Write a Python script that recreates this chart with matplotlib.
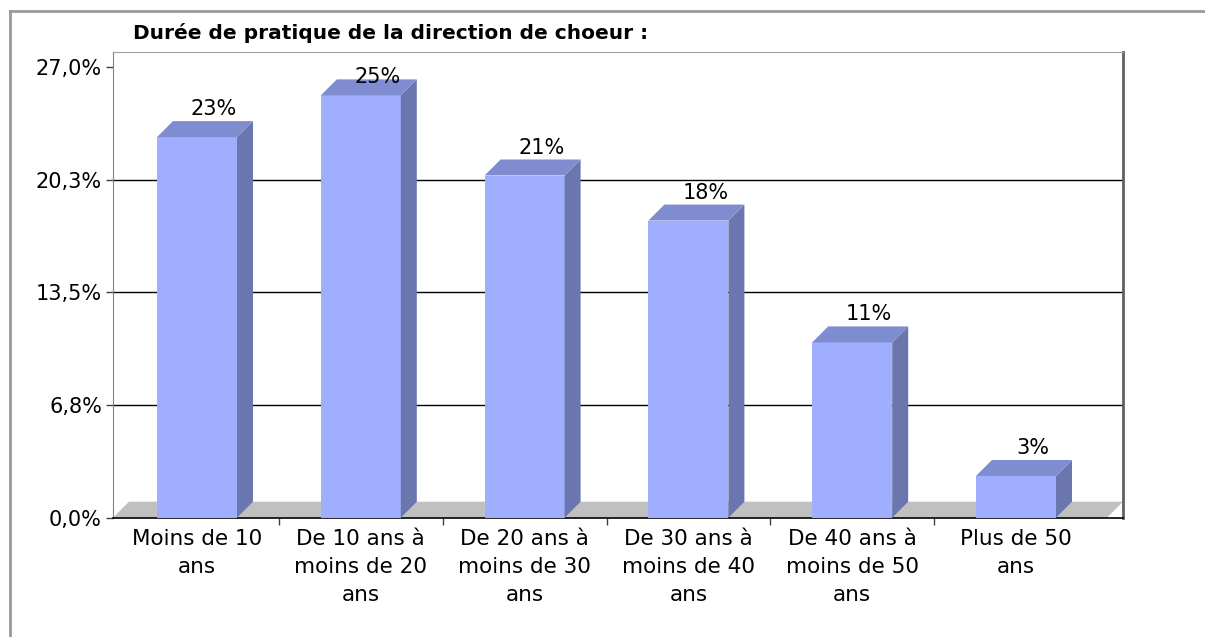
import numpy as np
import matplotlib
matplotlib.use("Agg")
import matplotlib.pyplot as plt
from matplotlib.patches import Polygon, Rectangle

# donnees
categories = ["Moins de 10\nans", "De 10 ans à\nmoins de 20\nans", "De 20 ans à\nmoins de 30\nans",
              "De 30 ans à\nmoins de 40\nans", "De 40 ans à\nmoins de 50\nans", "Plus de 50\nans"]
valeurs = [22.8, 25.3, 20.5, 17.8, 10.5, 2.5]
yticks = [0.0, 6.75, 13.5, 20.25, 27.0]
ytick_labels = ["0,0%", "6,8%", "13,5%", "20,3%", "27,0%"]
titre = "Durée de pratique de la direction de choeur :"

W, H = 1205, 637
fig = plt.figure(figsize=(W / 100, H / 100), dpi=100)
plt.rcParams['font.family'] = ['DejaVu Sans']

# zone de trace en pixels
px_l, px_r, px_t, px_b = 113, 1123, 52, 517.7
ax = fig.add_axes([px_l / W, (H - px_b) / H, (px_r - px_l) / W, (px_b - px_t) / H])

slot = 163.8                       # pixels par categorie
x0 = 197                           # centre de la 1ere barre
xl = (px_l - x0) / slot
xr = (px_r - x0) / slot
ypp = 27.0 / (517.7 - 67)          # valeur par pixel
ytop = (px_b - px_t) * ypp
ax.set_xlim(xl, xr)
ax.set_ylim(0, ytop)

dx = 16 / slot
dy = 16 * ypp
w = 80 / slot

c_face = '#A0AEFF'
c_top = '#808CD0'
c_side = '#6B76AE'

# sol gris
ax.add_patch(Polygon([(xl, 0), (xl + dx, dy), (xr, dy), (xr - dx, 0)], closed=True,
                     facecolor='#C0C0C0', edgecolor='none', zorder=1))

# lignes de grille
for yv in yticks[1:-1]:
    ax.plot([xl, xr], [yv, yv], color='black', lw=1, zorder=2)

x = np.arange(len(valeurs))
for xi, v in zip(x, valeurs):
    a, b = xi - w / 2, xi + w / 2
    ax.add_patch(Rectangle((a, 0), w, v, facecolor=c_face, edgecolor='none', zorder=3))
    ax.add_patch(Polygon([(b, 0), (b + dx, dy), (b + dx, v + dy), (b, v)], closed=True,
                         facecolor=c_side, edgecolor='none', zorder=3))
    ax.add_patch(Polygon([(a, v), (a + dx, v + dy), (b + dx, v + dy), (b, v)], closed=True,
                         facecolor=c_top, edgecolor='none', zorder=3))
    ly = min(v + 22 * ypp, ytop - 1.85)
    ax.text(xi + 17 / slot, ly, "%d%%" % int(v + 0.5), ha='center', va='baseline',
            fontsize=15, color='black', zorder=4)

ax.set_yticks(yticks)
ax.set_yticklabels(ytick_labels, fontsize=15)
ax.set_xticks(x)
ax.set_xticklabels(categories, fontsize=15.5, linespacing=1.5)
ax.set_xticks(x[:-1] + 0.5, minor=True)
ax.tick_params(axis='x', which='major', length=0, pad=8)
ax.tick_params(axis='x', which='minor', length=5, width=1, color='#404040')
ax.tick_params(axis='y', length=5, width=1, color='#404040', pad=3)

ax.spines['left'].set_color('#808080')
ax.spines['top'].set_color('#A0A0A0')
ax.spines['right'].set_color('#606060')
ax.spines['right'].set_linewidth(2)
ax.spines['bottom'].set_color('black')
ax.spines['bottom'].set_linewidth(1.2)

fig.text(133 / W, 1 - 33 / H, titre, ha='left', va='center', fontsize=14.5, fontweight='bold')

# cadre exterieur
fig.add_artist(plt.Line2D([10 / W, 10 / W], [0, 1 - 11 / H], color='#999999', lw=2))
fig.add_artist(plt.Line2D([10 / W, 1], [1 - 11 / H, 1 - 11 / H], color='#999999', lw=2))

fig.savefig("out.png", dpi=100)
